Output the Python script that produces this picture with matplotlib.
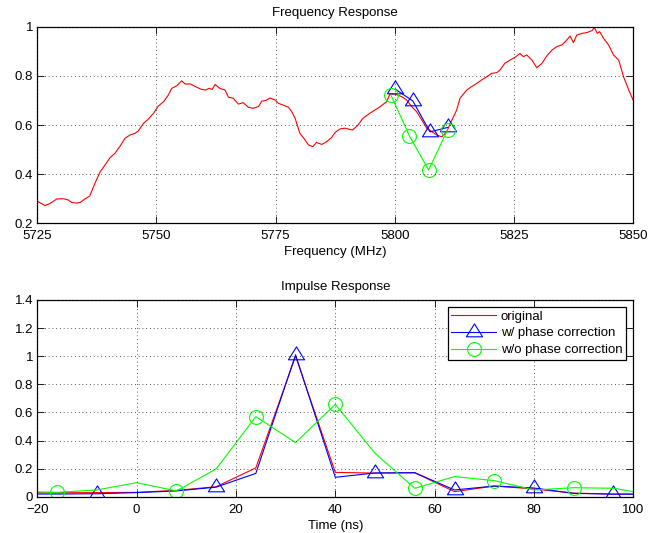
import matplotlib
matplotlib.use('Agg')
import matplotlib.pyplot as plt
from matplotlib.path import Path
from matplotlib.lines import Line2D

# ---------------- data ----------------
freq_mhz = [5725.0, 5725.2, 5726.6, 5727.7, 5729.1, 5730.5, 5731.5, 5732.2, 5733.3, 5734.0,
            5735.0, 5736.0, 5737.1, 5738.2, 5739.2, 5740.3, 5741.3, 5742.4, 5743.4, 5744.5,
            5745.5, 5746.2, 5747.3, 5748.3, 5749.4, 5750.4, 5751.5, 5752.5, 5753.2, 5754.3,
            5755.3, 5756.0, 5757.1, 5758.2, 5759.3, 5760.3, 5761.0, 5761.7, 5762.3, 5763.3,
            5764.4, 5765.1, 5766.1, 5767.2, 5768.2, 5769.3, 5770.3, 5771.4, 5772.1, 5773.1,
            5773.8, 5774.9, 5775.6, 5776.6, 5777.7, 5778.4, 5779.1, 5780.1, 5781.2, 5781.9,
            5782.8, 5783.6, 5784.7, 5785.7, 5786.8, 5787.5, 5788.5, 5789.6, 5790.6, 5791.2,
            5792.3, 5793.3, 5794.8, 5796.9, 5798.3, 5799.0, 5800.1, 5801.5, 5802.5, 5803.6,
            5804.6, 5805.7, 5806.7, 5807.8, 5808.8, 5809.9, 5810.9, 5812.0, 5813.0, 5813.7,
            5815.1, 5816.1, 5817.2, 5818.2, 5819.3, 5820.3, 5821.4, 5822.1, 5823.1, 5824.2,
            5825.2, 5826.3, 5827.0, 5827.7, 5828.8, 5829.8, 5830.9, 5831.9, 5833.0, 5834.0,
            5835.1, 5836.1, 5836.8, 5837.5, 5838.2, 5839.3, 5840.3, 5841.4, 5841.9, 5842.5,
            5843.0, 5843.8, 5844.9, 5845.9, 5847.0, 5848.0, 5849.1, 5850.0]
freq_mag = [0.290, 0.288, 0.272, 0.281, 0.299, 0.300, 0.295, 0.285, 0.282, 0.285,
            0.299, 0.311, 0.363, 0.410, 0.437, 0.468, 0.485, 0.515, 0.546, 0.560,
            0.566, 0.576, 0.607, 0.624, 0.648, 0.677, 0.695, 0.722, 0.749, 0.760,
            0.780, 0.767, 0.767, 0.756, 0.746, 0.742, 0.749, 0.745, 0.765, 0.749,
            0.742, 0.713, 0.709, 0.685, 0.691, 0.672, 0.668, 0.675, 0.697, 0.701,
            0.710, 0.702, 0.688, 0.681, 0.672, 0.654, 0.627, 0.566, 0.539, 0.519,
            0.512, 0.529, 0.521, 0.532, 0.550, 0.570, 0.584, 0.587, 0.582, 0.580,
            0.600, 0.627, 0.648, 0.674, 0.695, 0.726, 0.726, 0.715, 0.702, 0.674,
            0.654, 0.620, 0.587, 0.573, 0.559, 0.552, 0.573, 0.620, 0.661, 0.709,
            0.742, 0.756, 0.769, 0.783, 0.796, 0.810, 0.813, 0.824, 0.851, 0.864,
            0.875, 0.891, 0.878, 0.885, 0.864, 0.833, 0.851, 0.881, 0.905, 0.919,
            0.926, 0.946, 0.962, 0.935, 0.966, 0.973, 0.976, 0.984, 0.997, 0.973,
            0.980, 0.953, 0.925, 0.885, 0.864, 0.797, 0.743, 0.702]

wpc_freq = [5800.1, 5803.8, 5807.4, 5811.1]
wpc_mag = [0.746, 0.698, 0.572, 0.590]
wopc_freq = [5799.2, 5803.1, 5807.1, 5811.1]
wopc_mag = [0.722, 0.555, 0.417, 0.580]

time_ns = [-24, -16, -8, 0, 8, 16, 24, 32, 40, 48, 56, 64, 72, 80, 88, 96, 104]
imp_orig = [0.027, 0.028, 0.029, 0.031, 0.045, 0.071, 0.205, 1.000, 0.173, 0.168,
            0.170, 0.036, 0.076, 0.055, 0.025, 0.019, 0.019]
imp_wpc = [0.019, 0.019, 0.021, 0.029, 0.041, 0.068, 0.166, 1.010, 0.138, 0.169,
           0.171, 0.048, 0.076, 0.062, 0.024, 0.018, 0.018]
imp_wopc = [0.038, 0.031, 0.048, 0.100, 0.041, 0.197, 0.570, 0.385, 0.657, 0.309,
            0.060, 0.143, 0.114, 0.048, 0.064, 0.060, 0.012]
wpc_mark_idx = [2, 5, 7, 9, 11, 13, 15]
wopc_mark_idx = [1, 4, 6, 8, 10, 12, 14]

legend_labels = ['original', 'w/ phase correction', 'w/o phase correction']

# ---------------- style ----------------
plt.rcParams['font.family'] = ['Liberation Sans', 'DejaVu Sans']
plt.rcParams['font.size'] = 9.5

W, H = 661, 533
fig = plt.figure(figsize=(W / 100, H / 100), dpi=100)

def px_axes(l, t, r, b):
    return fig.add_axes([l / W, (H - b) / H, (r - l) / W, (b - t) / H])

ax1 = px_axes(37.3, 26.7, 633.0, 223.3)
ax2 = px_axes(37.3, 300.0, 633.3, 496.7)

tri = Path([(0, 1), (-0.9375, -0.5), (0.9375, -0.5), (0, 0)], closed=True)

RED, BLUE, GREEN = (1, 0, 0), (0, 0, 1), (0, 1, 0)
lw = 0.8
tri_kw = dict(marker=tri, markersize=12.4, markerfacecolor='none',
              markeredgewidth=0.8, markeredgecolor=BLUE)
circ_kw = dict(marker='o', markersize=10, markerfacecolor='none',
               markeredgewidth=0.8, markeredgecolor=GREEN)

def style(ax):
    ax.grid(True, linestyle=(0, (1, 3.5)), linewidth=0.6, color='0.15')
    ax.tick_params(direction='in', top=True, right=True, length=5, width=0.6,
                   labelsize=9.5, colors='black')
    ax.tick_params(axis='x', pad=5)
    ax.tick_params(axis='y', pad=3)
    for s in ax.spines.values():
        s.set_linewidth(0.9)
        s.set_color('black')
    ax.set_axisbelow(False)

# Frequency response
ax1.plot(freq_mhz, freq_mag, color=RED, lw=lw)
ax1.plot(wpc_freq, wpc_mag, color=BLUE, lw=lw, **tri_kw)
ax1.plot(wopc_freq, wopc_mag, color=GREEN, lw=lw, **circ_kw)
ax1.set_xlim(5725, 5850)
ax1.set_ylim(0.2, 1.0)
ax1.set_xticks([5725, 5750, 5775, 5800, 5825, 5850])
ax1.set_yticks([0.2, 0.4, 0.6, 0.8, 1.0])
ax1.set_yticklabels(['0.2', '0.4', '0.6', '0.8', '1'])
ax1.set_title('Frequency Response', fontsize=9.5, pad=7.5)
ax1.set_xlabel('Frequency (MHz)', fontsize=9.5, labelpad=3)
style(ax1)

# Impulse response
ax2.plot(time_ns, imp_orig, color=RED, lw=lw)
ax2.plot(time_ns, imp_wpc, color=BLUE, lw=lw, markevery=wpc_mark_idx, **tri_kw)
ax2.plot(time_ns, imp_wopc, color=GREEN, lw=lw, markevery=wopc_mark_idx, **circ_kw)
ax2.set_xlim(-20, 100)
ax2.set_ylim(0, 1.4)
ax2.set_xticks([-20, 0, 20, 40, 60, 80, 100])
ax2.set_yticks([0, 0.2, 0.4, 0.6, 0.8, 1.0, 1.2, 1.4])
ax2.set_yticklabels(['0', '0.2', '0.4', '0.6', '0.8', '1', '1.2', '1.4'])
ax2.set_title('Impulse Response', fontsize=9.5, pad=7.5)
ax2.set_xlabel('Time (ns)', fontsize=9.5, labelpad=3)
style(ax2)

proxies = [Line2D([], [], color=RED, lw=lw),
           Line2D([], [], color=BLUE, lw=lw, **tri_kw),
           Line2D([], [], color=GREEN, lw=lw, **circ_kw)]
leg = ax2.legend(proxies, legend_labels, loc='upper right',
                 bbox_to_anchor=((626 - 37.3) / 596.0, (496.7 - 306.7) / 196.7),
                 borderaxespad=0, fancybox=False, shadow=False, framealpha=1,
                 edgecolor='black', fontsize=9.5, handlelength=3.35,
                 handletextpad=0.38, labelspacing=0.35, borderpad=0.28,
                 numpoints=1)
leg.get_frame().set_linewidth(0.9)

fig.savefig('out.png', dpi=100)
